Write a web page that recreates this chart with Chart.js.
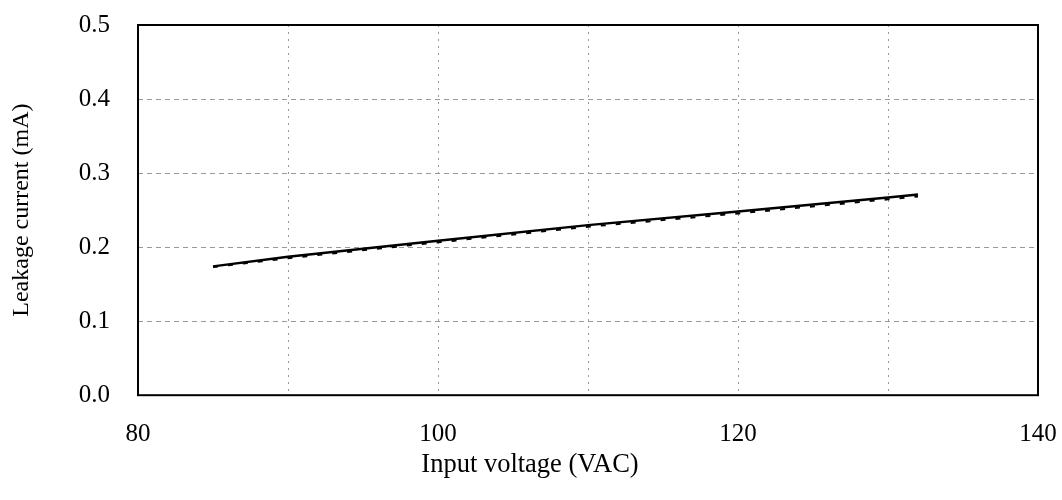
<!DOCTYPE html>
<html>
<head>
<meta charset="utf-8">
<script src="https://cdn.jsdelivr.net/npm/chart.js@4"></script>
<style>
  html, body { margin: 0; padding: 0; background: #fff; }
  #wrap { width: 1062px; height: 500px; }
</style>
</head>
<body>
<div id="wrap"><canvas id="c" width="1062" height="500"></canvas></div>
<script>
const voltages = [85, 90, 100, 110, 120, 130, 132];
const currentSolid = [0.174, 0.187, 0.2085, 0.2297, 0.248, 0.267, 0.271];
const currentDashed = [0.173, 0.185, 0.2065, 0.2275, 0.2455, 0.2645, 0.2685];
const xTicks = [80, 100, 120, 140];
const yTicks = [0.0, 0.1, 0.2, 0.3, 0.4, 0.5];

const frame = {
  id: 'frame',
  afterDatasetsDraw(chart) {
    const a = chart.chartArea, ctx = chart.ctx;
    ctx.save();
    ctx.strokeStyle = '#000';
    ctx.lineWidth = 2;
    ctx.strokeRect(a.left, a.top, a.right - a.left, a.bottom - a.top);
    ctx.restore();
  }
};

const serif = '"Liberation Serif", "Times New Roman", serif';
const font = { family: serif, size: 25 };

new Chart(document.getElementById('c'), {
  type: 'line',
  data: {
    datasets: [
      {
        data: voltages.map((v, i) => ({ x: v, y: currentDashed[i] })),
        borderColor: '#000', borderWidth: 2, borderDash: [5, 10],
        pointRadius: 0, tension: 0, fill: false
      },
      {
        data: voltages.map((v, i) => ({ x: v, y: currentSolid[i] })),
        borderColor: '#000', borderWidth: 2.5,
        pointRadius: 0, tension: 0, fill: false
      }
    ]
  },
  options: {
    responsive: false,
    animation: false,
    devicePixelRatio: 1,
    layout: { padding: { left: 22, right: 24, top: 25, bottom: 0 } },
    plugins: {
      legend: { display: false },
      tooltip: { enabled: false },
      title: {
        display: true, position: 'bottom', text: 'Input voltage (VAC)', color: '#000',
        font: { family: serif, size: 26.5, weight: 'normal' },
        padding: { top: 4, bottom: 19 }
      }
    },
    scales: {
      x: {
        type: 'linear', min: 80, max: 140,
        afterFit: s => { s.height = 50; s.paddingLeft = 0; s.paddingRight = 0; },
        ticks: {
          stepSize: 10, color: '#000', font, padding: 24, maxRotation: 0, autoSkip: false,
          callback: v => xTicks.includes(v) ? String(v) : ''
        },
        grid: { color: '#999', lineWidth: 1, drawTicks: false },
        border: { display: false, dash: [2, 5] }
      },
      y: {
        type: 'linear', min: 0, max: 0.5,
        afterFit: s => { s.width = 116; s.paddingTop = 0; s.paddingBottom = 0; },
        afterBuildTicks: s => { s.ticks = yTicks.map(v => ({ value: v })); },
        ticks: { color: '#000', font, padding: 28, callback: v => Number(v).toFixed(1) },
        grid: { color: '#999', lineWidth: 1, drawTicks: false },
        border: { display: false, dash: [5, 4] },
        title: { display: true, text: 'Leakage current (mA)', color: '#000', font: { family: serif, size: 24 }, padding: { top: -15, bottom: 0 } }
      }
    }
  },
  plugins: [frame]
});
</script>
</body>
</html>
